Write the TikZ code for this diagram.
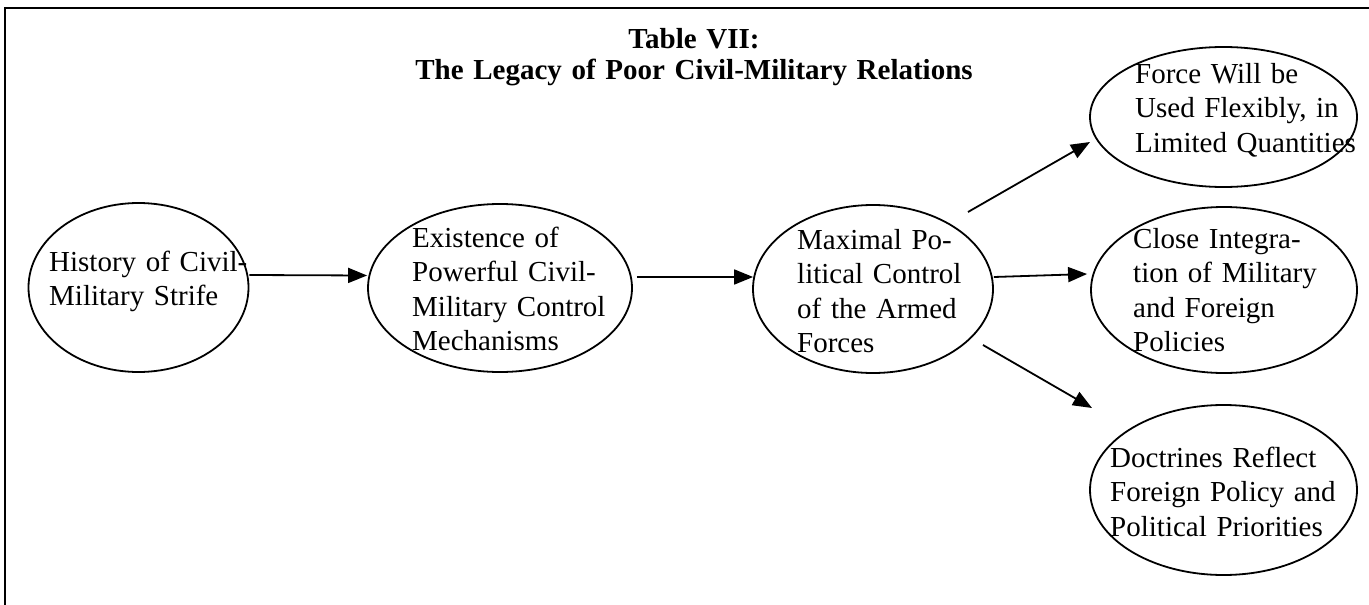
\documentclass[tikz,border=0pt]{standalone}
\usepackage{fontspec}
\setmainfont{Liberation Serif}
\usetikzlibrary{shapes.geometric,arrows.meta}
\begin{document}
\begin{tikzpicture}[x=1pt,y=-1pt,
  bubble/.style={draw,ellipse,line width=1.8pt,inner sep=0pt},
  lbl/.style={font=\fontsize{29}{34.5}\selectfont,inner sep=0pt,align=left,
    text width=300pt,anchor=base west},
  heading/.style={font=\bfseries\fontsize{29}{32}\selectfont,inner sep=0pt,
    align=center,text width=700pt,anchor=base},
  arr/.style={-{Triangle[length=19pt,width=15pt]},line width=1.8pt}]
\useasboundingbox (0,0) rectangle (1369,605);
% frame
\draw[line width=2.5pt] (5,605) -- (5,8) -- (1369,8);
% heading
\node[heading] (title) at (694,48) {Table VII:\\The Legacy of Poor Civil-Military Relations};
% ellipses
\node[bubble,minimum width=220pt,minimum height=169pt] (e1) at (138.5,287.5) {};
\node[bubble,minimum width=264pt,minimum height=168pt] (e2) at (500,288) {};
\node[bubble,minimum width=240pt,minimum height=168pt] (e3) at (873,289) {};
\node[bubble,minimum width=267pt,minimum height=140pt] (e4) at (1223.5,117) {};
\node[bubble,minimum width=266pt,minimum height=166pt] (e5) at (1224,290) {};
\node[bubble,minimum width=267pt,minimum height=170pt] (e6) at (1223.5,490) {};
% texts
\node[lbl] (t1) at (49,271) {History of Civil-\\Military Strife};
\node[lbl] (t2) at (412,247) {Existence of\\Powerful Civil-\\Military Control\\Mechanisms};
\node[lbl] (t3) at (797,249) {Maximal Po-\\litical Control\\of the Armed\\Forces};
\node[lbl] (t4) at (1135,83) {Force Will be\\Used Flexibly, in\\Limited Quantities};
\node[lbl] (t5) at (1133,248) {Close Integra-\\tion of Military\\and Foreign\\Policies};
\node[lbl] (t6) at (1110,467) {Doctrines Reflect\\Foreign Policy and\\Political Priorities};
% connectors
\coordinate (u0) at (968,212);
\coordinate (u1) at (1090,142);
\coordinate (d0) at (983,345);
\coordinate (d1) at (1092,408);
\draw[arr] ([yshift=12.5pt]e1.east) -- ([yshift=12.5pt]e2.west);
\draw[arr] ([xshift=4pt,yshift=11pt]e2.east) -- ([xshift=1pt,yshift=12pt]e3.west);
\draw[arr] (u0) -- (u1);
\draw[arr] ([yshift=12pt]e3.east) -- ([xshift=-3pt,yshift=16pt]e5.west);
\draw[arr] (d0) -- (d1);
\end{tikzpicture}
\end{document}
